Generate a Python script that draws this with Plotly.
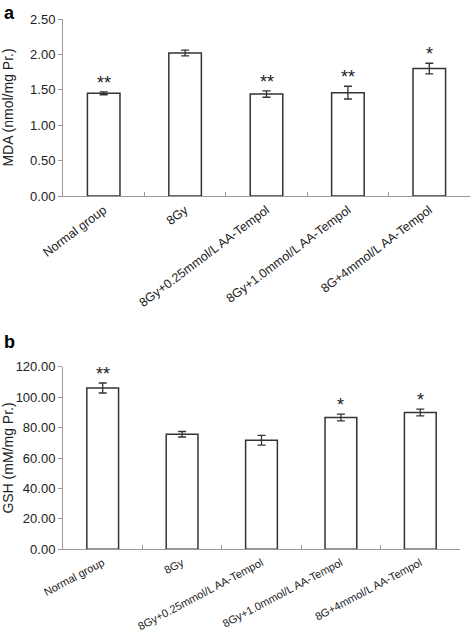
import plotly.graph_objects as go

categories = ["Normal group", "8Gy", "8Gy+0.25mmol/L AA-Tempol",
              "8Gy+1.0mmol/L AA-Tempol", "8G+4mmol/L AA-Tempol"]

mda_values = [1.45, 2.02, 1.44, 1.46, 1.80]
mda_errors = [0.02, 0.04, 0.045, 0.09, 0.075]
mda_marks = ["**", "", "**", "**", "*"]
mda_ticks = [0.0, 0.5, 1.0, 1.5, 2.0, 2.5]

gsh_values = [106.0, 75.6, 71.7, 86.6, 89.9]
gsh_errors = [3.3, 1.8, 3.2, 2.2, 2.2]
gsh_marks = ["**", "", "", "*", "*"]
gsh_ticks = [0, 20, 40, 60, 80, 100, 120]

W, H = 472, 635
FONT = "Liberation Sans, Arial, sans-serif"
TXT = "#222222"
AX = "#9a9a9a"
BARLINE = "#333333"

fig = go.Figure()

def add_panel(vals, errs, xa, ya):
    fig.add_trace(go.Bar(
        x=categories, y=vals, xaxis=xa, yaxis=ya, width=0.40,
        marker=dict(color="white", line=dict(color=BARLINE, width=1.5)),
        error_y=dict(type="data", array=errs, visible=True,
                     color=BARLINE, thickness=1.3, width=4),
        showlegend=False, hoverinfo="skip"))

add_panel(mda_values, mda_errors, "x", "y")
add_panel(gsh_values, gsh_errors, "x2", "y2")

def ydom(top_px, bot_px):
    return [1 - bot_px / H, 1 - top_px / H]

xcommon = dict(type="category", tickson="boundaries", ticks="inside", ticklen=4,
               tickcolor=AX, showline=True, linecolor=AX, linewidth=1,
               showgrid=False, zeroline=False, automargin=False)
ycommon = dict(ticks="outside", ticklen=4, tickcolor=AX, showline=True,
               linecolor=AX, linewidth=1, showgrid=False, zeroline=False,
               automargin=False, tickfont=dict(family=FONT, size=13, color=TXT))

fig.update_layout(
    width=W, height=H, margin=dict(l=0, r=0, t=0, b=0),
    paper_bgcolor="white", plot_bgcolor="white",
    font=dict(family=FONT, color=TXT),
    xaxis=dict(**xcommon, domain=[63 / W, 470 / W], anchor="y", tickangle=-37,
               ticklabelstandoff=1,
               tickfont=dict(family=FONT, size=12.5, color=TXT)),
    yaxis=dict(**ycommon, domain=ydom(19, 196), anchor="x", range=[0, 2.5],
               tickvals=mda_ticks, ticktext=[f"{v:.2f}" for v in mda_ticks],
               title=dict(text="MDA (nmol/mg Pr.)",
                          font=dict(family=FONT, size=14, color=TXT))),
    xaxis2=dict(**xcommon, domain=[63 / W, 460 / W], anchor="y2", tickangle=-28,
                ticklabelstandoff=2,
                tickfont=dict(family=FONT, size=11, color=TXT)),
    yaxis2=dict(**ycommon, domain=ydom(366.7, 549.3), anchor="x2", range=[0, 120],
                tickvals=gsh_ticks, ticktext=[f"{v:.2f}" for v in gsh_ticks],
                title=dict(text="GSH (mM/mg Pr.)",
                           font=dict(family=FONT, size=14, color=TXT))),
)

annotations = []
for c, v, e, m in zip(categories, mda_values, mda_errors, mda_marks):
    if m:
        annotations.append(dict(x=c, y=v + e, xref="x", yref="y", text=m,
                                showarrow=False, yanchor="bottom", yshift=-3,
                                font=dict(family=FONT, size=18, color=TXT)))
for c, v, e, m in zip(categories, gsh_values, gsh_errors, gsh_marks):
    if m:
        annotations.append(dict(x=c, y=v + e, xref="x2", yref="y2", text=m,
                                showarrow=False, yanchor="bottom", yshift=-3,
                                font=dict(family=FONT, size=18, color=TXT)))
annotations.append(dict(x=2 / W, y=1 - 1 / H, xref="paper", yref="paper", text="<b>a</b>",
                        showarrow=False, xanchor="left", yanchor="top",
                        font=dict(family=FONT, size=18, color="black")))
annotations.append(dict(x=2 / W, y=1 - 330 / H, xref="paper", yref="paper", text="<b>b</b>",
                        showarrow=False, xanchor="left", yanchor="top",
                        font=dict(family=FONT, size=18, color="black")))
fig.update_layout(annotations=annotations)

fig.write_html("out.html",
               config={"displayModeBar": False},
               post_script="document.body.style.margin='0';"
                           "document.body.style.padding='0';")
